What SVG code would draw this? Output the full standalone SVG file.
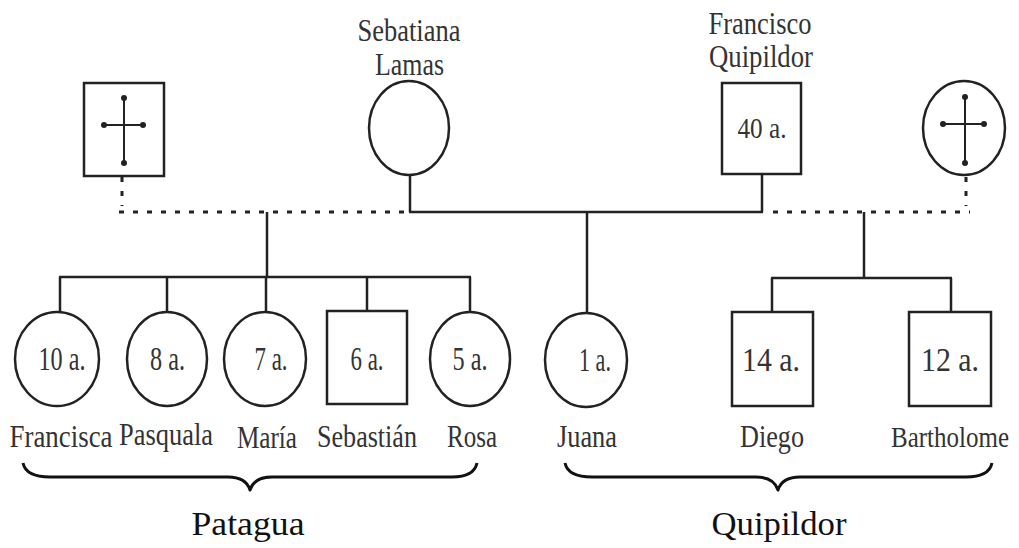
<svg xmlns="http://www.w3.org/2000/svg" width="1019" height="548" viewBox="0 0 1019 548">
<style>
.shape{fill:#fff;stroke:#222;stroke-width:2.5}
.line{fill:none;stroke:#222;stroke-width:2.5}
.dash{fill:none;stroke:#222;stroke-width:3;stroke-dasharray:5 9}
.cross{fill:none;stroke:#222;stroke-width:2}
.dot{fill:#222}
.brace{fill:none;stroke:#111;stroke-width:3;stroke-linejoin:round}
.t{font-family:"Liberation Serif","Times New Roman",serif;fill:#333;text-anchor:middle}
.name{font-size:31px}
.age{font-size:34px}
.grp{font-family:"Liberation Serif","Times New Roman",serif;font-size:34px;fill:#111;text-anchor:middle}
</style>
<rect width="1019" height="548" fill="#fff"/>
<g id="connectors">
  <line class="line" x1="410" y1="175" x2="410" y2="212"/>
  <line class="line" x1="409" y1="212" x2="763" y2="212"/>
  <line class="line" x1="762" y1="174" x2="762" y2="212"/>
  <line class="line" x1="587" y1="212" x2="587" y2="313"/>
  <line class="dash" x1="122" y1="177" x2="122" y2="206"/>
  <line class="dash" x1="119" y1="212" x2="405" y2="212"/>
  <line class="dash" x1="966" y1="177" x2="966" y2="206"/>
  <line class="dash" x1="773" y1="212" x2="970" y2="212"/>
  <line class="line" x1="267" y1="212" x2="267" y2="277"/>
  <line class="line" x1="59" y1="277" x2="471" y2="277"/>
  <line class="line" x1="60" y1="277" x2="60" y2="312"/>
  <line class="line" x1="167" y1="277" x2="167" y2="312"/>
  <line class="line" x1="266" y1="277" x2="266" y2="312"/>
  <line class="line" x1="367" y1="277" x2="367" y2="311"/>
  <line class="line" x1="470" y1="277" x2="470" y2="312"/>
  <line class="line" x1="864" y1="212" x2="864" y2="278"/>
  <line class="line" x1="771" y1="278" x2="952" y2="278"/>
  <line class="line" x1="772" y1="278" x2="772" y2="312"/>
  <line class="line" x1="951" y1="278" x2="951" y2="312"/>
</g>
<g id="deceased-husband">
  <rect class="shape" x="84" y="83" width="80" height="93"/>
  <line class="cross" x1="124" y1="98" x2="124" y2="163"/>
  <line class="cross" x1="104" y1="125" x2="143" y2="125"/>
  <circle class="dot" cx="124" cy="98" r="3"/>
  <circle class="dot" cx="124" cy="163" r="3"/>
  <circle class="dot" cx="104" cy="125" r="3"/>
  <circle class="dot" cx="143" cy="125" r="3"/>
</g>
<g id="sebatiana">
  <ellipse class="shape" cx="409" cy="128" rx="40" ry="47"/>
  <text class="t name" x="409" y="41" textLength="103" lengthAdjust="spacingAndGlyphs">Sebatiana</text>
  <text class="t name" x="409.5" y="75" textLength="69" lengthAdjust="spacingAndGlyphs">Lamas</text>
</g>
<g id="francisco">
  <rect class="shape" x="722" y="83" width="79" height="91"/>
  <text class="t" font-size="30" x="762" y="138" textLength="49" lengthAdjust="spacingAndGlyphs">40 a.</text>
  <text class="t name" x="760" y="34" textLength="103" lengthAdjust="spacingAndGlyphs">Francisco</text>
  <text class="t name" x="761" y="67" textLength="104" lengthAdjust="spacingAndGlyphs">Quipildor</text>
</g>
<g id="deceased-wife">
  <ellipse class="shape" cx="964" cy="128" rx="41" ry="47"/>
  <line class="cross" x1="965" y1="97" x2="965" y2="163"/>
  <line class="cross" x1="943" y1="124" x2="984" y2="124"/>
  <circle class="dot" cx="965" cy="97" r="3"/>
  <circle class="dot" cx="965" cy="163" r="3"/>
  <circle class="dot" cx="943" cy="124" r="3"/>
  <circle class="dot" cx="984" cy="124" r="3"/>
</g>
<g id="francisca">
  <ellipse class="shape" cx="57" cy="359" rx="42" ry="47"/>
  <text class="t age" x="62" y="370" textLength="47" lengthAdjust="spacingAndGlyphs">10 a.</text>
  <text class="t name" x="61" y="447" textLength="103" lengthAdjust="spacingAndGlyphs">Francisca</text>
</g>
<g id="pasquala">
  <ellipse class="shape" cx="167" cy="359" rx="40" ry="47"/>
  <text class="t age" x="167.5" y="370" textLength="35" lengthAdjust="spacingAndGlyphs">8 a.</text>
  <text class="t name" x="166" y="445" textLength="94" lengthAdjust="spacingAndGlyphs">Pasquala</text>
</g>
<g id="maria">
  <ellipse class="shape" cx="265" cy="359" rx="41" ry="47"/>
  <text class="t age" x="271" y="370" textLength="33" lengthAdjust="spacingAndGlyphs">7 a.</text>
  <text class="t name" x="267" y="448" textLength="60" lengthAdjust="spacingAndGlyphs">María</text>
</g>
<g id="sebastian">
  <rect class="shape" x="327" y="311" width="80" height="93"/>
  <text class="t age" x="367" y="370" textLength="33" lengthAdjust="spacingAndGlyphs">6 a.</text>
  <text class="t name" x="367" y="447" textLength="100" lengthAdjust="spacingAndGlyphs">Sebastián</text>
</g>
<g id="rosa">
  <ellipse class="shape" cx="470" cy="359" rx="40" ry="47"/>
  <text class="t age" x="470" y="370" textLength="35" lengthAdjust="spacingAndGlyphs">5 a.</text>
  <text class="t name" x="472" y="447" textLength="50" lengthAdjust="spacingAndGlyphs">Rosa</text>
</g>
<g id="juana">
  <ellipse class="shape" cx="586" cy="360" rx="41" ry="47"/>
  <text class="t age" x="595" y="371" textLength="32" lengthAdjust="spacingAndGlyphs">1 a.</text>
  <text class="t name" x="587" y="447" textLength="60" lengthAdjust="spacingAndGlyphs">Juana</text>
</g>
<g id="diego">
  <rect class="shape" x="732" y="312" width="81" height="94"/>
  <text class="t age" x="771" y="371" textLength="58" lengthAdjust="spacingAndGlyphs">14 a.</text>
  <text class="t name" x="772" y="447" textLength="64" lengthAdjust="spacingAndGlyphs">Diego</text>
</g>
<g id="bartholome">
  <rect class="shape" x="909" y="312" width="82" height="94"/>
  <text class="t age" x="950" y="371" textLength="58" lengthAdjust="spacingAndGlyphs">12 a.</text>
  <text class="t" font-size="29" x="950" y="447" textLength="118" lengthAdjust="spacingAndGlyphs">Bartholome</text>
</g>
<g id="patagua">
  <path class="brace" d="M23,463 Q26,477 50,477 L228,477 Q246,477 250,490 Q254,477 272,477 L452,477 Q474,477 477,463"/>
  <text class="grp" x="248" y="535" textLength="113" lengthAdjust="spacingAndGlyphs">Patagua</text>
</g>
<g id="quipildor">
  <path class="brace" d="M565,463 Q568,477 592,477 L756,477 Q774,477 778,490 Q782,477 800,477 L966,477 Q989,477 992,463"/>
  <text class="grp" x="779" y="535" textLength="135" lengthAdjust="spacingAndGlyphs">Quipildor</text>
</g>
</svg>
